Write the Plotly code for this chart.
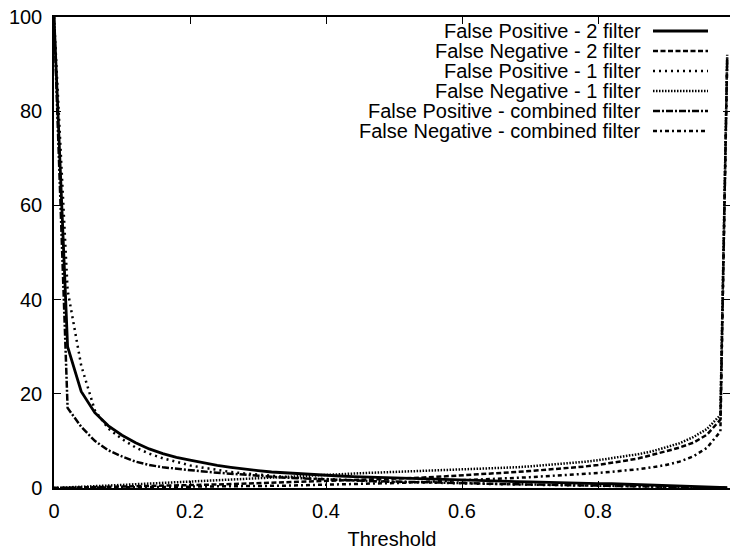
import plotly.graph_objects as go

thresholds = [0.00, 0.02, 0.04, 0.06, 0.08, 0.10, 0.12, 0.14, 0.16, 0.18,
              0.20, 0.22, 0.24, 0.26, 0.28, 0.30, 0.32, 0.34, 0.36, 0.38,
              0.40, 0.42, 0.44, 0.46, 0.48, 0.50, 0.52, 0.54, 0.56, 0.58,
              0.60, 0.62, 0.64, 0.66, 0.68, 0.70, 0.72, 0.74, 0.76, 0.78,
              0.80, 0.82, 0.84, 0.86, 0.88, 0.90, 0.92, 0.94, 0.96, 0.98,
              0.99]

fp_2 = [100, 30, 20.5, 16, 13.2, 11.2, 9.6, 8.3, 7.3, 6.5,
        5.9, 5.3, 4.8, 4.4, 4.0, 3.7, 3.4, 3.2, 3.0, 2.85,
        2.7, 2.55, 2.4, 2.3, 2.2, 2.1, 2.0, 1.9, 1.8, 1.7,
        1.6, 1.55, 1.5, 1.4, 1.35, 1.3, 1.2, 1.15, 1.1, 1.0,
        0.95, 0.9, 0.8, 0.75, 0.7, 0.6, 0.5, 0.4, 0.3, 0.2,
        0.1]

fn_2 = [0, 0.05, 0.1, 0.15, 0.2, 0.25, 0.3, 0.35, 0.42, 0.5,
        0.58, 0.66, 0.75, 0.84, 0.93, 1.02, 1.11, 1.2, 1.3, 1.4,
        1.5, 1.6, 1.7, 1.8, 1.9, 2.0, 2.1, 2.2, 2.35, 2.5,
        2.65, 2.8, 3.0, 3.2, 3.4, 3.6, 3.8, 4.0, 4.25, 4.55,
        4.9, 5.3, 5.8, 6.3, 7.0, 7.8, 8.6, 9.6, 11.3, 14.5,
        91.5]

fp_1 = [100, 42, 26, 16.5, 12.6, 10.4, 8.6, 7.3, 6.3, 5.5,
        4.8, 4.3, 3.8, 3.4, 3.1, 2.8, 2.55, 2.35, 2.15, 2.0,
        1.85, 1.7, 1.6, 1.5, 1.4, 1.3, 1.22, 1.15, 1.08, 1.0,
        0.95, 0.9, 0.85, 0.8, 0.75, 0.7, 0.65, 0.6, 0.56, 0.52,
        0.48, 0.44, 0.4, 0.36, 0.32, 0.28, 0.24, 0.2, 0.14, 0.08,
        0.04]

fn_1 = [0, 0.1, 0.2, 0.35, 0.5, 0.65, 0.8, 0.95, 1.1, 1.25,
        1.4, 1.55, 1.7, 1.85, 2.0, 2.15, 2.3, 2.45, 2.6, 2.75,
        2.9, 3.0, 3.1, 3.2, 3.3, 3.4, 3.5, 3.6, 3.7, 3.8,
        3.9, 4.0, 4.1, 4.25, 4.4, 4.6, 4.8, 5.0, 5.25, 5.55,
        5.9, 6.3, 6.7, 7.2, 7.8, 8.6, 9.5, 10.8, 12.5, 15.5,
        92]

fp_c = [100, 17, 13, 10, 8.0, 6.7, 5.6, 4.9, 4.4, 4.05,
        3.75, 3.5, 3.25, 3.0, 2.8, 2.6, 2.4, 2.2, 2.05, 1.9,
        1.8, 1.7, 1.6, 1.5, 1.42, 1.35, 1.28, 1.2, 1.13, 1.06,
        1.0, 0.95, 0.9, 0.85, 0.8, 0.75, 0.7, 0.65, 0.6, 0.55,
        0.5, 0.46, 0.42, 0.38, 0.34, 0.3, 0.25, 0.2, 0.14, 0.08,
        0.04]

fn_c = [0, 0.02, 0.04, 0.06, 0.08, 0.1, 0.12, 0.15, 0.18, 0.21,
        0.24, 0.27, 0.3, 0.34, 0.38, 0.42, 0.46, 0.5, 0.55, 0.6,
        0.65, 0.7, 0.78, 0.86, 0.95, 1.05, 1.15, 1.26, 1.38, 1.5,
        1.62, 1.75, 1.88, 2.0, 2.15, 2.3, 2.45, 2.6, 2.8, 3.0,
        3.2, 3.45, 3.7, 4.0, 4.4, 4.9, 5.6, 6.7, 8.5, 12.0,
        91]

series_names = ["False Positive - 2 filter", "False Negative - 2 filter",
                "False Positive - 1 filter", "False Negative - 1 filter",
                "False Positive - combined filter", "False Negative - combined filter"]
series_values = [fp_2, fn_2, fp_1, fn_1, fp_c, fn_c]
dashes = ["solid", "5px,2.5px", "2px,4px", "1.5px,1.5px", "7px,2px,2px,2px", "4px,3px,2px,3px"]
widths = [2.8, 2.5, 2.5, 2.5, 2.5, 2.5]

x_ticks = [0, 0.2, 0.4, 0.6, 0.8]
y_ticks = [0, 20, 40, 60, 80, 100]

FONT = "Liberation Sans, Arial, sans-serif"
FS = 20
W, H = 730, 550
ML, MR, MT, MB = 54, 0, 17, 62
PW, PH = W - ML - MR, H - MT - MB

fig = go.Figure()
for name, vals, d, w in zip(series_names, series_values, dashes, widths):
    fig.add_trace(go.Scatter(x=thresholds, y=vals, mode="lines", name=name,
                             line=dict(color="black", width=w, dash=d),
                             showlegend=False))

# manual legend (gnuplot style: text right, sample on right)
for i, (name, d, w) in enumerate(zip(series_names, dashes, widths)):
    py = 31 + 20 * i
    yp = (H - MB - py) / PH
    fig.add_annotation(x=(643 - ML) / PW, y=yp, xref="paper", yref="paper",
                       text=name, showarrow=False, xanchor="right", yanchor="middle",
                       font=dict(family=FONT, size=FS, color="black"))
    fig.add_shape(type="line", xref="paper", yref="paper",
                  x0=(653 - ML) / PW, x1=(708 - ML) / PW, y0=yp, y1=yp,
                  line=dict(color="black", width=w, dash=d))

fig.update_layout(
    width=W, height=H,
    margin=dict(l=ML, r=MR, t=MT, b=MB, autoexpand=False),
    paper_bgcolor="white", plot_bgcolor="white",
    font=dict(family=FONT, size=FS, color="black"),
)
fig.update_xaxes(range=[0, PW / 680], tickvals=x_ticks, ticktext=[str(v) for v in x_ticks],
                 ticks="inside", ticklen=7, tickwidth=1, tickcolor="black",
                 showline=True, linecolor="black", linewidth=1.5, mirror="allticks",
                 showgrid=False, zeroline=False, automargin=False, ticklabelstandoff=4,
                 title=dict(text="Threshold", standoff=12,
                            font=dict(family=FONT, size=FS)))
fig.update_yaxes(range=[0, 100], tickvals=y_ticks,
                 ticks="inside", ticklen=7, tickwidth=1, tickcolor="black",
                 showline=True, linecolor="black", linewidth=1.5, mirror="allticks",
                 showgrid=False, zeroline=False, automargin=False, ticklabelstandoff=6)

fig.write_html("out.html", config={"displayModeBar": False},
               post_script="document.body.style.margin='0px';document.body.style.overflow='hidden';")
